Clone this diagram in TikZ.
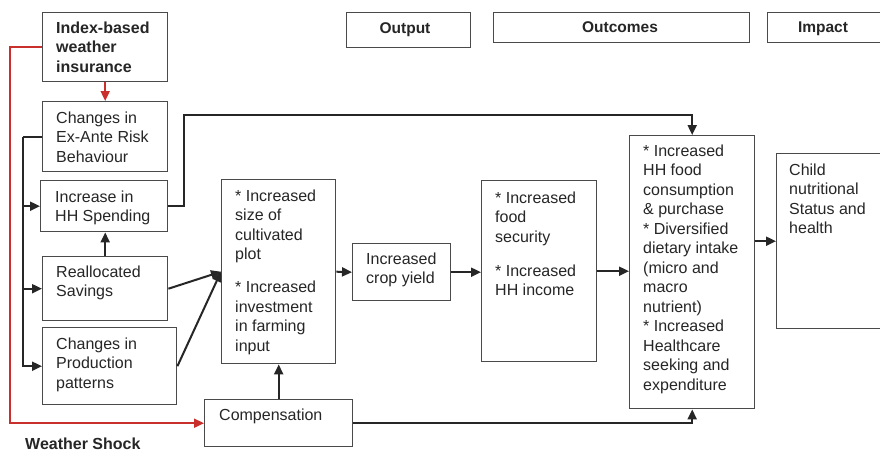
\documentclass[tikz,border=0pt]{standalone}
\usepackage{fontspec}
\setmainfont{Liberation Sans}
\usetikzlibrary{arrows.meta,calc}
\definecolor{boxgray}{HTML}{4A4A4A}
\definecolor{txtgray}{HTML}{262626}
\definecolor{shockred}{HTML}{C9302C}
\newcommand{\tb}[1]{\parbox[t]{150pt}{\raggedright\fontsize{16}{19.5}\selectfont #1}}
\begin{document}
\begin{tikzpicture}[x=1pt,y=-1pt,
  box/.style={draw=boxgray,line width=1.4pt,rectangle,inner sep=0pt,anchor=north west,fill=white},
  txt/.style={anchor=base west,inner sep=0pt,text=txtgray},
  hdr/.style={inner sep=0pt,text=txtgray,font=\fontsize{15.5}{19.5}\selectfont\bfseries},
  arr/.style={line width=2pt,draw=black!85,-{Triangle[length=10pt,width=9pt]}},
  ln/.style={line width=2pt,draw=black!85},
  rarr/.style={line width=1.8pt,draw=shockred,-{Triangle[length=10pt,width=9pt]}}]
\clip (0,0) rectangle (880,451);
\fill[white] (0,0) rectangle (880,451);
% header boxes
\node[box,minimum width=124pt,minimum height=35pt] (hout) at (346,12) {};
\node[hdr,anchor=base] (hout-t) at (405,33) {Output};
\node[box,minimum width=256pt,minimum height=30pt] (hoc) at (493,12) {};
\node[hdr,anchor=base] (hoc-t) at (620,32.5) {Outcomes};
\node[box,minimum width=130pt,minimum height=30pt] (himp) at (767,12) {};
\node[hdr,anchor=base] (himp-t) at (823,32.5) {Impact};
% boxes
\node[box,minimum width=125pt,minimum height=69pt] (ins) at (42,12) {};
\node[txt] (ins-t) at (56,33) {\tb{\bfseries Index-based\\weather\\insurance}};
\node[box,minimum width=125pt,minimum height=70pt] (ex) at (42,101) {};
\node[txt] (ex-t) at (56,123) {\tb{Changes in\\Ex-Ante Risk\\Behaviour}};
\node[box,minimum width=127pt,minimum height=51pt] (hh) at (40,180) {};
\node[txt] (hh-t) at (55,202) {\tb{Increase in\\HH Spending}};
\node[box,minimum width=125pt,minimum height=64pt] (sav) at (42,256) {};
\node[txt] (sav-t) at (56,277) {\tb{Reallocated\\Savings}};
\node[box,minimum width=134pt,minimum height=77pt] (prod) at (42,327) {};
\node[txt] (prod-t) at (56,349) {\tb{Changes in\\Production\\patterns}};
\node[box,minimum width=114pt,minimum height=184pt] (size) at (221,179) {};
\node[txt] (size-t) at (235,201) {\tb{* Increased\\size of\\cultivated\\plot\\[13.5pt]\relax * Increased\\investment\\in farming\\input}};
\node[box,minimum width=98pt,minimum height=57pt] (crop) at (352,243) {};
\node[txt] (crop-t) at (366,264) {\tb{Increased\\crop yield}};
\node[box,minimum width=115pt,minimum height=181pt] (food) at (481,180) {};
\node[txt] (food-t) at (495,203) {\tb{* Increased\\food\\security\\[14.5pt]\relax * Increased\\HH income}};
\node[box,minimum width=125pt,minimum height=273pt] (cons) at (629,135) {};
\node[txt] (cons-t) at (643,156) {\tb{* Increased\\HH food\\consumption\\\& purchase\\\relax * Diversified\\dietary intake\\(micro and\\macro\\nutrient)\\\relax * Increased\\Healthcare\\seeking and\\expenditure}};
\node[box,minimum width=120pt,minimum height=175pt] (child) at (776,153) {};
\node[txt] (child-t) at (789,175) {\tb{Child\\nutritional\\Status and\\health}};
\node[box,minimum width=148pt,minimum height=47pt] (comp) at (204,399) {};
\node[txt] (comp-t) at (219,420) {\tb{Compensation}};
\node[txt] (shock) at (25,449) {\tb{\bfseries Weather Shock}};
% red connectors
\draw[rarr] (ins.south) -- (ex.north);
\draw[rarr] (ins.west) -- ++(-32,0) |- (comp.west);
% trunk on the left
\draw[ln] (ex.west) -- ++(-19,0) coordinate (tk);
\draw[arr] (tk) |- (prod.west);
\draw[arr] (tk |- hh.west) -- (hh.west);
\draw[arr] (tk |- sav.west) -- (sav.west);
\draw[arr] (sav.north) -- (sav.north |- hh.south);
% HH spending to consumption
\draw[arr] (hh.east) -- ++(16,0) |- ($(cons.north)+(0,-20)$) -- (cons.north);
% to size box
\draw[arr] (sav.east) -- (size.west);
\draw[arr] (prod.east) -- (size.west);
\draw[arr] (comp.north) -- (size.south);
% main chain
\draw[arr] (size.east) -- (crop.west);
\draw[arr] (crop.east) -- (crop.east -| food.west);
\draw[arr] (food.east) -- (food.east -| cons.west);
\draw[arr] (cons.east |- child.west) -- (child.west);
\draw[arr] (comp.east) -| (cons.south);
\end{tikzpicture}
\end{document}
